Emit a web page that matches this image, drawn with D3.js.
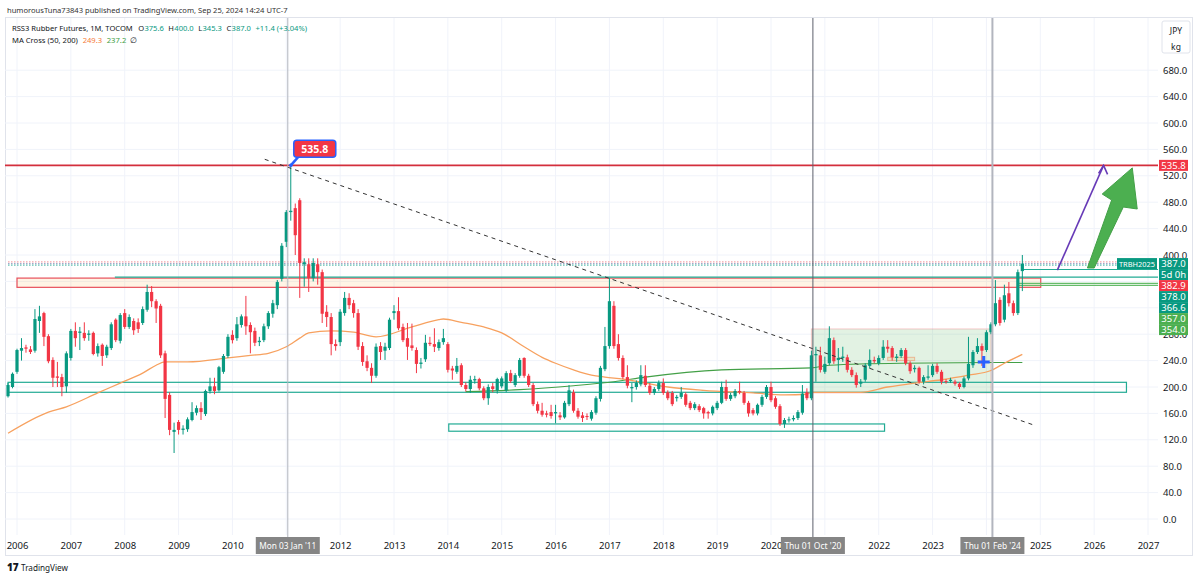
<!DOCTYPE html>
<html><head><meta charset="utf-8">
<script src="https://cdn.jsdelivr.net/npm/d3@7"></script>
<style>body{margin:0;background:#fff;} svg{display:block;font-family:"Noto Sans",sans-serif;}</style>
</head><body><svg id="c" width="1200" height="578"></svg>
<script>
// ---------- DATA ----------
const firstMonth = -2; // Nov 2005 (month index relative to Jan 2006)
const opens = [
186,200,
223,255,260,257,255,300,312,277,241,216,215,201,
244,285,282,282,279,282,251,264,248,259,302,270,
312,291,300,298,297,317,344,330,323,251,188,132,
147,135,136,150,161,168,159,194,201,195,223,247,
279,274,294,307,294,285,268,271,292,311,324,364,
420,465,471,483,386,386,365,386,374,314,306,265,
268,312,335,327,312,262,239,229,217,262,255,259,
312,315,291,274,263,256,235,242,267,265,259,268,
265,228,223,233,203,197,210,212,198,183,201,195,
201,195,221,203,217,244,217,203,174,164,160,162,
160,157,154,174,192,164,157,156,152,161,182,227,
262,323,265,244,215,198,200,204,217,202,191,197,
206,192,191,183,185,189,176,168,171,168,162,160,
168,176,200,182,186,194,191,176,165,160,173,185,
200,183,171,144,150,151,153,161,192,183,248,248,
223,236,271,241,244,245,226,218,205,211,232,241,
236,244,261,259,244,247,256,236,227,229,208,214,
218,232,223,209,209,208,205,200,213,233,253,262,
256,283,295,332,302,342,327,312,375.6];
const highs = [
206,222,
258,274,264,262,318,323,314,280,245,238,220,254,
288,298,291,298,286,284,266,266,264,298,304,312,
318,310,304,304,322,355,353,333,326,255,192,146,
150,142,154,177,172,177,196,214,214,232,250,280,
286,306,310,338,298,290,276,296,315,332,362,418,
468,535.8,478,486,395,395,395,395,378,324,312,272,
318,344,342,332,318,268,248,236,266,268,267,305,
324,336,296,297,296,260,244,279,276,289,272,288,
268,232,244,236,207,217,217,214,201,204,206,214,
216,224,226,221,244,245,220,206,178,176,164,173,
173,162,179,203,196,168,162,160,165,186,232,291,
365,330,280,248,233,206,210,233,233,206,200,210,
213,195,194,188,200,192,179,177,174,170,164,172,
179,208,211,191,197,208,194,179,168,175,188,203,
208,186,174,153,155,157,165,203,198,255,261,261,
246,292,275,259,261,249,230,222,212,236,257,246,
248,271,271,262,250,259,259,239,233,231,218,233,
235,236,226,212,214,211,207,216,276,256,274,266,
286,298,362,336,355,359,331,378,400];
const lows = [
184,198,
220,240,252,250,252,282,262,236,200,200,186,191,
240,261,256,270,270,248,246,232,244,256,268,266,
288,288,279,282,294,314,321,297,244,153,127,100,
128,128,132,148,157,150,156,190,189,193,220,244,
266,270,290,279,251,262,262,268,288,305,318,360,
412,452,400,335,352,344,360,355,297,291,248,255,
262,308,318,305,256,232,224,206,214,241,241,256,
302,286,268,241,255,221,228,238,262,253,255,264,
222,211,220,200,193,191,205,195,180,173,192,190,
198,192,206,200,214,214,200,171,160,155,154,152,
145,150,152,171,161,152,147,150,149,158,178,224,
258,258,240,212,198,177,196,201,200,188,188,194,
188,180,171,178,182,170,165,165,162,152,152,157,
165,174,179,179,183,189,173,155,157,157,170,182,
177,167,141,138,146,148,150,158,180,180,208,222,
220,233,235,223,238,222,215,199,200,208,228,236,
233,241,252,240,238,244,233,220,222,205,204,211,
215,220,204,205,206,202,197,198,210,229,250,232,
253,280,292,293,298,322,308,309,345.3];
const closes = [
203,220,
256,259,258,253,303,307,276,239,214,214,200,251,
285,274,284,274,281,250,262,247,261,295,271,309,
291,306,286,288,318,344,330,319,248,182,135,135,
135,137,151,162,168,162,194,201,194,230,247,276,
271,295,307,292,283,267,270,292,312,327,359,414,
465,467,430,388,389,365,388,374,311,306,265,262,
314,335,324,312,261,238,229,217,261,253,261,302,
315,289,271,261,259,235,237,267,265,261,268,274,
226,225,232,203,197,211,212,198,183,200,197,212,
213,221,209,218,241,217,203,174,164,158,158,156,
162,154,176,195,164,155,153,155,162,183,229,262,
330,262,244,215,202,200,206,218,203,191,197,206,
191,183,174,185,191,173,168,174,165,160,160,170,
176,200,182,188,194,192,176,160,160,173,185,200,
180,170,144,150,151,153,162,190,183,248,250,226,
235,274,239,244,246,226,218,203,208,233,241,239,
244,261,258,245,246,256,236,224,229,208,215,216,
232,223,208,208,211,205,200,213,235,253,262,255,
283,295,327,297,339,327,312,374,387];

const yearLabels = ["2006","2007","2008","2009","2010","2011","2012","2013","2014","2015","2016",
  "2017","2018","2019","2020","2021","2022","2023","2024","2025","2026","2027"];
const priceTicks = [0,40,80,120,160,200,240,280,320,360,400,440,480,520,560,600,640,680];

const ma50Months = [-2,7,11,18,23,28,31,33,38,47,52,56,60,63,65,70,75,80,88,94,95,99,104,108,113,117,120,124,128,131,135,145,153,164,171,176,177,188,194,200,206,212,217,220,224];
const ma50Values = [130,162,170,191,206,221,233,238,238,244,248,251,261,274,282,285,283,276,291,302,303,298,291,282,261,245,236,226,218,215,212,200,195,191,188,189,192,192,200,206,211,218,225,236,249.3];
const ma200Months = [100,112,124,133,140,157,177,181,197,224];
const ma200Values = [193,196,202,208,215,226,229,233,236,237.2];

const eventMonths = [60,177,217];
const eventLabels = ["Mon 03 Jan '11","Thu 01 Oct '20","Thu 01 Feb '24"];

const axisLabels = [
  {text:"387.0", value:387.0, color:"#089981"},
  {text:"5d 0h", value:387.0, color:"#089981"},
  {text:"382.9", value:382.9, color:"#f23645"},
  {text:"378.0", value:378.0, color:"#089981"},
  {text:"366.6", value:366.6, color:"#089981"},
  {text:"357.0", value:357.0, color:"#4caf50"},
  {text:"354.0", value:354.0, color:"#4caf50"}];

// ---------- SCALES ----------
const x = d3.scaleLinear().domain([0, 252]).range([17, 1148]);
const y = d3.scaleLinear().domain([0, 680]).range([519, 70.2]);
const L = 5, R = 1158, T = 18, B = 535;
const UP = "#089981", DOWN = "#f23645";

const svg = d3.select("#c");
svg.append("rect").attr("width",1200).attr("height",578).attr("fill","#fff");
svg.append("rect").attr("x",5.5).attr("y",17.5).attr("width",1187).attr("height",538)
  .attr("fill","none").attr("stroke","#e0e3eb");

const defs = svg.append("defs");
defs.append("clipPath").attr("id","clip").append("rect")
  .attr("x",L).attr("y",T).attr("width",R-L).attr("height",B-T);
const g = svg.append("g").attr("clip-path","url(#clip)");

// font sizing helper: shrink/grow a text so that its natural width equals target
function fit(sel, target){
  const w = sel.node().getComputedTextLength();
  const fs = +sel.attr("font-size");
  if (w > 0) sel.attr("font-size", (fs*target/w).toFixed(2));
  return sel;
}

// grid
const yearMonths = yearLabels.map((d,i)=>i*12);
g.selectAll(".vg").data(yearMonths).join("line").attr("class","vg")
  .attr("x1",d=>x(d)).attr("x2",d=>x(d)).attr("y1",T).attr("y2",B)
  .attr("stroke","#f0f3fa");
g.selectAll(".hg").data(priceTicks).join("line").attr("class","hg")
  .attr("x1",L).attr("x2",R).attr("y1",d=>y(d)).attr("y2",d=>y(d))
  .attr("stroke","#f0f3fa");

// helpers
function rectMV(m0,m1,v0,v1){
  return g.append("rect").attr("x",x(m0)).attr("width",x(m1)-x(m0))
    .attr("y",y(v0)).attr("height",y(v1)-y(v0));
}
function hline(v,m0,m1,color,w,dash){
  const l = g.append("line").attr("x1",m0===null?L:x(m0)).attr("x2",m1===null?R+2:x(m1))
    .attr("y1",y(v)).attr("y2",y(v)).attr("stroke",color).attr("stroke-width",w||1);
  if(dash) l.attr("stroke-dasharray",dash);
  return l;
}

// zones
rectMV(177,217,288,191).attr("fill","rgba(76,175,80,0.16)").attr("stroke","rgba(242,54,69,0.25)");
rectMV(194,200,245,240).attr("fill","rgba(255,152,0,0.12)").attr("stroke","rgba(242,120,69,0.45)");
rectMV(-2,247.2,207.1,192).attr("fill","none").attr("stroke","#22ab94").attr("stroke-width",1.2);
rectMV(96.2,193.3,144,133).attr("fill","none").attr("stroke","#22ab94").attr("stroke-width",1.2);
rectMV(0,228.1,365,351).attr("fill","rgba(255,152,0,0.10)").attr("stroke","#e8505b").attr("stroke-width",1.2);

// horizontal levels
hline(389.5,-2,245,"#f5a3a9",1.2,"1.5,1.5");
hline(387.0,-2,245,"#9fa8c8",1.2,"1.5,1.5");
hline(384.6,-2,245,"#5fbfb0",1.2,"1.5,1.5");
hline(366.6,21.8,null,"#22ab94",1.3);
hline(378.0,224,null,"#22ab94",1.2);
hline(357.0,223,null,"#66bb6a",1.2);
hline(354.0,223,null,"#66bb6a",1.2);
hline(535.8,-2.7,null,"#d32f3c",1.6);

// event lines
const evColors = ["#b2b5be","#5d606b","#b2b5be"];
const evWidths = [1,1,2];
eventMonths.forEach((m,i)=>{
  svg.append("line").attr("x1",x(m)+1.5).attr("x2",x(m)+1.5).attr("y1",T).attr("y2",B+2)
    .attr("stroke",evColors[i]).attr("stroke-width",evWidths[i]);
});

// moving averages
const maLine = d3.line().x(d=>x(d[0])).y(d=>y(d[1])).curve(d3.curveMonotoneX);
g.append("path").attr("d",maLine(ma200Months.map((m,i)=>[m,ma200Values[i]])))
  .attr("fill","none").attr("stroke","#43a047").attr("stroke-width",1.1);
g.append("path").attr("d",maLine(ma50Months.map((m,i)=>[m,ma50Values[i]])))
  .attr("fill","none").attr("stroke","#f7a15f").attr("stroke-width",1.3);

// candles
const candles = closes.map((c,i)=>({m:firstMonth+i,o:opens[i],h:highs[i],l:lows[i],c:c}));
const cg = g.append("g");
cg.selectAll(".wick").data(candles).join("line")
  .attr("x1",d=>x(d.m)).attr("x2",d=>x(d.m)).attr("y1",d=>y(d.h)).attr("y2",d=>y(d.l))
  .attr("stroke",d=>d.c>=d.o?UP:DOWN).attr("stroke-width",1);
cg.selectAll(".body").data(candles).join("rect")
  .attr("x",d=>x(d.m)-1.6).attr("width",3.2)
  .attr("y",d=>y(Math.max(d.o,d.c)))
  .attr("height",d=>Math.max(1,Math.abs(y(d.o)-y(d.c))))
  .attr("fill",d=>d.c>=d.o?UP:DOWN);

// trend line
const trend = [[55.2,545],[226.7,142]];
g.append("line").attr("x1",x(trend[0][0])).attr("y1",y(trend[0][1]))
  .attr("x2",x(trend[1][0])).attr("y2",y(trend[1][1]))
  .attr("stroke","#333").attr("stroke-width",1).attr("stroke-dasharray","4,4");

// blue cross
const cross = [215.4,238];
g.append("path").attr("d",`M${x(cross[0])-6},${y(cross[1])}h12M${x(cross[0])},${y(cross[1])-6}v12`)
  .attr("stroke","#2962ff").attr("stroke-width",3);

// purple arrow
const pArrow = [[231.8,377],[242.1,535.8]];
const px0=x(pArrow[0][0]), py0=y(pArrow[0][1]), px1=x(pArrow[1][0]), py1=y(pArrow[1][1]);
g.append("line").attr("x1",px0).attr("y1",py0).attr("x2",px1).attr("y2",py1)
  .attr("stroke","#673ab7").attr("stroke-width",1.6);
g.append("path").attr("d",`M${px1-5},${py1+8}L${px1},${py1}L${px1+4},${py1+9}`)
  .attr("fill","none").attr("stroke","#673ab7").attr("stroke-width",1.6);

// green arrow
const gArrow = [[238.5,380.3],[240.0,380.3],[246.5,472.7],[249.6,469.7],[248.5,532],[241.8,492.4],[243.9,483.3]];
g.append("polygon").attr("points",gArrow.map(p=>[x(p[0]),y(p[1])].join(",")).join(" "))
  .attr("fill","#4caf50").attr("stroke","#43a047").attr("stroke-width",1);

// callout 535.8
const ax = x(61), ay = y(535.8);
svg.append("line").attr("x1",ax).attr("y1",ay).attr("x2",ax+8).attr("y2",ay-9)
  .attr("stroke","#2962ff").attr("stroke-width",2.5);
svg.append("circle").attr("cx",ax).attr("cy",ay).attr("r",1.8).attr("fill","#2962ff");
svg.append("rect").attr("x",ax+3).attr("y",ay-25).attr("width",42).attr("height",17).attr("rx",3)
  .attr("fill","#f23645").attr("stroke","#2962ff").attr("stroke-width",1.5);
svg.append("text").attr("x",ax+24).attr("y",ay-16.5).attr("text-anchor","middle")
  .attr("dominant-baseline","central").attr("fill","#fff").attr("font-size",10.5).attr("font-weight",700)
  .text("535.8");

// ---------- AXES ----------
const shownPriceTicks = priceTicks.filter(v => v !== 320 && v !== 360);
const yAxis = svg.append("g").attr("transform","translate(1160,0)")
  .call(d3.axisRight(y).tickValues(shownPriceTicks).tickFormat(d3.format(".1f")).tickSize(0).tickPadding(3));
yAxis.select(".domain").remove();
yAxis.selectAll("text").attr("font-size",9.5).attr("fill","#131722").attr("font-family","Noto Sans, sans-serif");

const shownYearMonths = yearMonths.filter(m => eventMonths.every(e => Math.abs(x(m) - x(e)) > 32));
const xAxis = svg.append("g").attr("transform","translate(0,539)")
  .call(d3.axisBottom(x).tickValues(shownYearMonths).tickFormat(d => yearLabels[d/12]).tickSize(0).tickPadding(3));
xAxis.select(".domain").remove();
xAxis.selectAll("text").attr("font-size",9.5).attr("fill","#131722").attr("font-family","Noto Sans, sans-serif");

// event labels on time axis
eventMonths.forEach((m,i)=>{
  const cx = x(m)+1.5;
  svg.append("rect").attr("x",cx-32).attr("y",537).attr("width",64).attr("height",17)
    .attr("fill","#858585");
  const t = svg.append("text").attr("x",cx).attr("y",545.5).attr("text-anchor","middle")
    .attr("dominant-baseline","central").attr("fill","#fff").attr("font-size",9.5)
    .text(eventLabels[i]);
  fit(t, 57);
});

// price axis tags
function tag(cy,text,color,x0,w,len){
  svg.append("rect").attr("x",x0).attr("y",cy-5.5).attr("width",w).attr("height",11).attr("fill",color);
  const t = svg.append("text").attr("x",x0+w/2).attr("y",cy).attr("text-anchor","middle")
    .attr("dominant-baseline","central").attr("fill","#fff").attr("font-size",9.5).text(text);
  if(len) fit(t, len);
}
tag(y(535.8),"535.8","#f23645",1159,29);
let cur = -Infinity;
axisLabels.forEach(d=>{
  const cy = Math.max(y(d.value), cur+11); cur = cy;
  tag(cy,d.text,d.color,1159,29);
});
tag(y(387.0),"TRBH2025","#089981",1117,40,36);

// JPY / kg
svg.append("rect").attr("x",1162).attr("y",21).attr("width",28).attr("height",32).attr("rx",2)
  .attr("fill","#fff").attr("stroke","#e0e3eb");
svg.append("text").attr("x",1176).attr("y",30).attr("text-anchor","middle").attr("dominant-baseline","central")
  .attr("font-size",8.5).attr("fill","#131722").text("JPY");
svg.append("text").attr("x",1176).attr("y",46).attr("text-anchor","middle").attr("dominant-baseline","central")
  .attr("font-size",8.5).attr("fill","#131722").text("kg");

// ---------- HEADER ----------
const h1 = svg.append("text").attr("x",7).attr("y",10).attr("dominant-baseline","central")
  .attr("font-size",10).attr("fill","#333")
  .text("humorousTuna73843 published on TradingView.com, Sep 25, 2024 14:24 UTC-7");
fit(h1, 281);

// legend rows: parts laid out one after another, then scaled to the reference width
function legendRow(parts, x0, yy, target){
  const base = 10;
  const nodes = parts.map(p => svg.append("text").attr("y",yy).attr("dominant-baseline","central")
    .attr("font-size",base).attr("fill",p[1]).text(p[0]));
  const widths = nodes.map(n => n.node().getComputedTextLength());
  const total = d3.sum(widths) + d3.sum(parts, p => p[2]);
  const k = target / total;
  let cx = x0;
  nodes.forEach((n,i)=>{
    n.attr("x",cx).attr("font-size",(base*k).toFixed(2));
    cx += (widths[i] + parts[i][2]) * k;
  });
}
legendRow([["RSS3 Rubber Futures, 1M, TOCOM","#131722",7],["O","#131722",0.5],["375.6","#089981",6],
  ["H","#131722",0.5],["400.0","#089981",6],["L","#131722",0.5],["345.3","#089981",6],
  ["C","#131722",0.5],["387.0","#089981",6],["+11.4 (+3.04%)","#089981",0]], 12, 28, 295);
legendRow([["MA Cross (50, 200)","#131722",6],["249.3","#f57c3c",6],["237.2","#43a047",5],["\u2205","#131722",0]], 12, 39.5, 125);

// footer logo
svg.append("text").attr("x",7).attr("y",567).attr("dominant-baseline","central")
  .attr("font-size",10).attr("font-weight",900).attr("fill","#131722").text("17");
const tv = svg.append("text").attr("x",21).attr("y",567).attr("dominant-baseline","central")
  .attr("font-size",10).attr("fill","#131722").text("TradingView");
fit(tv, 47);
</script>
</body></html>
